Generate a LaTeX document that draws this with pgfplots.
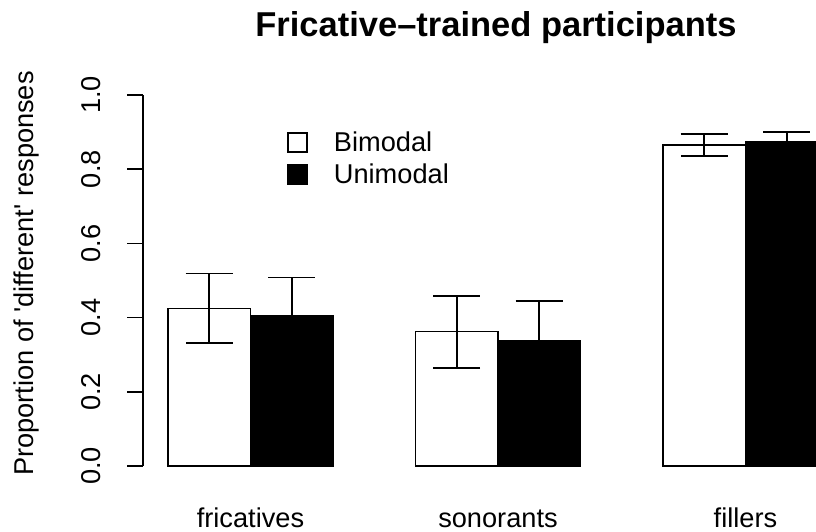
\documentclass[border=0pt]{standalone}
\usepackage{fontspec}
\setmainfont{Liberation Sans}
\usepackage{pgfplots}
\pgfplotsset{compat=1.18}
\usepackage{pgfplotstable}
\pgfplotstableread{
x y e
1.5 0.425 0.094
4.5 0.362 0.097
7.5 0.865 0.030
}\bimodal
\pgfplotstableread{
x y e
2.5 0.405 0.103
5.5 0.337 0.108
8.5 0.874 0.027
}\unimodal
\begin{document}
\begin{tikzpicture}
\useasboundingbox (0,0) rectangle (816pt,531pt);
\begin{axis}[
  at={(143pt,65pt)}, anchor=south west,
  scale only axis, width=673pt, height=371pt,
  xmin=0.697, xmax=8.855, ymin=0, ymax=1,
  axis lines*=left,
  x axis line style={draw=none},
  y axis line style={-, line width=1.5pt},
  xtick={2,5,8},
  xticklabels={fricatives,sonorants,fillers},
  major x tick style={draw=none},
  xticklabel style={anchor=base, yshift=-45pt},
  ytick={0,0.2,0.4,0.6,0.8,1.0},
  major y tick style={line width=1.5pt, black},
  tick align=outside,
  major tick length=16pt,
  yticklabel style={xshift=-27pt, rotate=90, anchor=base, /pgf/number format/fixed, /pgf/number format/fixed zerofill, /pgf/number format/precision=1},
  /pgf/number format/assume math mode=true,
  tick label style={font=\fontsize{27.2}{32}\selectfont},
  legend style={draw=none, fill=none, at={(0.2095,0.912)}, anchor=north west, font=\fontsize{27.2}{32}\selectfont, row sep=7pt, nodes={inner sep=2pt}},
  legend cell align=left,
  legend image code/.code={\draw[#1, line width=1.5pt] (0pt,-9.5pt) rectangle (19pt,9.5pt); \path[draw=none, fill=none] (0pt,0pt) -- (44pt,0pt);},
]
\addplot[ybar, bar width=1, bar shift=0pt, fill=white, draw=black, line width=1.5pt,
  error bars/.cd, y dir=both, y explicit,
  error bar style={line width=1.8pt, black},
  error mark options={line width=1.8pt, mark size=23.5pt, rotate=90}]
  table[x=x, y=y, y error=e] {\bimodal};
\addlegendentry{Bimodal}
\addplot[ybar, bar width=1, bar shift=0pt, fill=black, draw=black, line width=1.5pt,
  error bars/.cd, y dir=both, y explicit,
  error bar style={line width=1.8pt, black},
  error mark options={line width=1.8pt, mark size=23.5pt, rotate=90}]
  table[x=x, y=y, y error=e] {\unimodal};
\addlegendentry{Unimodal}
\end{axis}
\node[anchor=base, font=\bfseries\fontsize{34.5}{40}\selectfont] at (496pt,494pt) {Fricative–trained participants};
\node[anchor=base, rotate=90, font=\fontsize{27.2}{32}\selectfont] at (33pt,257.5pt) {Proportion of \textquotesingle different\textquotesingle{} responses};
\end{tikzpicture}
\end{document}
